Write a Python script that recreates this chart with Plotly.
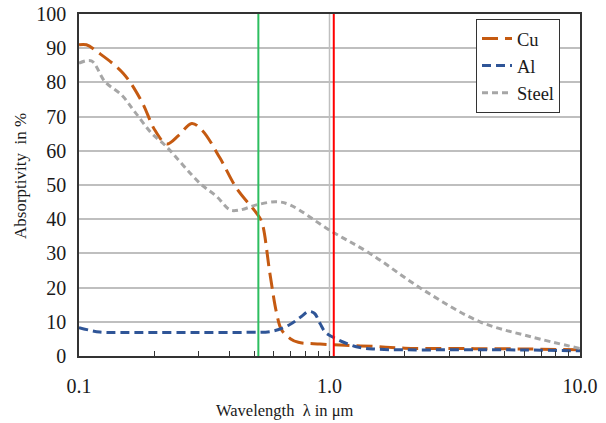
import plotly.graph_objects as go

# Data
cu_x = [0.1, 0.107, 0.119, 0.15, 0.178, 0.201, 0.224, 0.25, 0.282, 0.31, 0.366, 0.426, 0.512,
        0.536, 0.578, 0.615, 0.644, 0.7, 0.751, 0.917, 1.1, 1.5, 2, 3, 5, 7, 10]
cu_y = [91, 91, 88.8, 82.7, 74.4, 66, 62, 64.5, 68, 66, 57.8, 49, 41.7,
        39.3, 24.2, 12.5, 7.6, 5, 4, 3.5, 3.2, 2.8, 2.3, 2.2, 2.1, 2.0, 1.8]

al_x = [0.1, 0.121, 0.15, 0.2, 0.3, 0.46, 0.597, 0.695, 0.77, 0.823, 0.87, 0.917, 0.959,
        1.02, 1.28, 1.54, 2, 3, 5, 7, 10]
al_y = [8.3, 7.0, 6.9, 6.9, 6.9, 6.9, 7.3, 9.2, 11.5, 13, 12.5, 9.5, 7.1,
        5.7, 2.7, 2.0, 1.8, 1.8, 1.8, 1.7, 1.5]

steel_x = [0.1, 0.112, 0.127, 0.148, 0.167, 0.195, 0.22, 0.304, 0.355, 0.401, 0.439, 0.512,
           0.615, 0.695, 1.0, 1.45, 2.37, 3.99, 6.31, 10]
steel_y = [85.6, 86.3, 80.2, 76.3, 71.4, 65.1, 61.7, 50.5, 46.6, 42.7, 42.7, 44.2,
           45.1, 44.2, 36.8, 30, 19.3, 10, 5.7, 2.2]

laser_wavelengths = [0.52, 1.04]
laser_colors = ["#2DBE60", "#FF0000"]

tick_vals = [0.1, 0.2, 0.3, 0.4, 0.5, 0.6, 0.7, 0.8, 0.9, 1, 2, 3, 4, 5, 6, 7, 8, 9, 10]
tick_text = ["0.1"] + [""] * 8 + ["1.0"] + [""] * 8 + ["10.0"]

FONT = "Liberation Serif"

fig = go.Figure()
fig.add_trace(go.Scatter(x=cu_x, y=cu_y, name="Cu", mode="lines",
                         line=dict(color="#C55A11", width=3, dash="16px,7px", shape="spline")))
fig.add_trace(go.Scatter(x=al_x, y=al_y, name="Al", mode="lines",
                         line=dict(color="#2F5597", width=3, dash="9px,5px", shape="spline")))
fig.add_trace(go.Scatter(x=steel_x, y=steel_y, name="Steel", mode="lines",
                         line=dict(color="#A6A6A6", width=3, dash="6px,4px", shape="spline")))

# vertical grid line at 1.0
fig.add_shape(type="line", x0=1, x1=1, y0=0, y1=1, xref="x", yref="paper",
              line=dict(color="#BFBFBF", width=1.5), layer="below")
for wl, c in zip(laser_wavelengths, laser_colors):
    fig.add_shape(type="line", x0=wl, x1=wl, y0=0, y1=1, xref="x", yref="paper",
                  line=dict(color=c, width=2), layer="above")

# axis titles as annotations (positioned like the reference)
fig.add_annotation(text="Wavelength  λ in μm", xref="paper", yref="paper",
                   x=(285 - 79) / 501, y=-(410 - 356) / 342, showarrow=False,
                   xanchor="center", yanchor="middle",
                   font=dict(family=FONT, size=16.5, color="#1a1a1a"))
fig.add_annotation(text="Absorptivity  in %", xref="paper", yref="paper",
                   x=-(79 - 20) / 501, y=(356 - 176) / 342, showarrow=False,
                   xanchor="center", yanchor="middle", textangle=-90,
                   font=dict(family=FONT, size=17, color="#1a1a1a"))

fig.update_layout(
    width=606, height=423,
    margin=dict(l=79, r=26, t=14, b=67, autoexpand=False),
    paper_bgcolor="white", plot_bgcolor="white",
    font=dict(family=FONT, size=17, color="#1a1a1a"),
    legend=dict(x=(476 - 79) / 501, y=(356 - 19) / 342, xanchor="left", yanchor="top",
                bordercolor="#333333", borderwidth=1, bgcolor="white",
                font=dict(family=FONT, size=18.5), tracegroupgap=0,
                itemwidth=30),
    xaxis=dict(type="log", range=[-1, 1], tickmode="array", tickvals=tick_vals,
               ticktext=tick_text, ticks="inside", ticklen=5, tickcolor="#333333",
               showgrid=False, showline=True, linecolor="#333333", linewidth=1.5,
               mirror=True, zeroline=False, automargin=False,
               tickfont=dict(family=FONT, size=20), ticklabelstandoff=11),
    yaxis=dict(range=[0, 100], dtick=10, showgrid=True, gridcolor="#BFBFBF", gridwidth=1.5,
               showline=True, linecolor="#333333", linewidth=1.5, mirror=True,
               zeroline=False, ticks="", tickfont=dict(family=FONT, size=20),
               ticklabelstandoff=7, automargin=False),
)

fig.write_html("out.html")
